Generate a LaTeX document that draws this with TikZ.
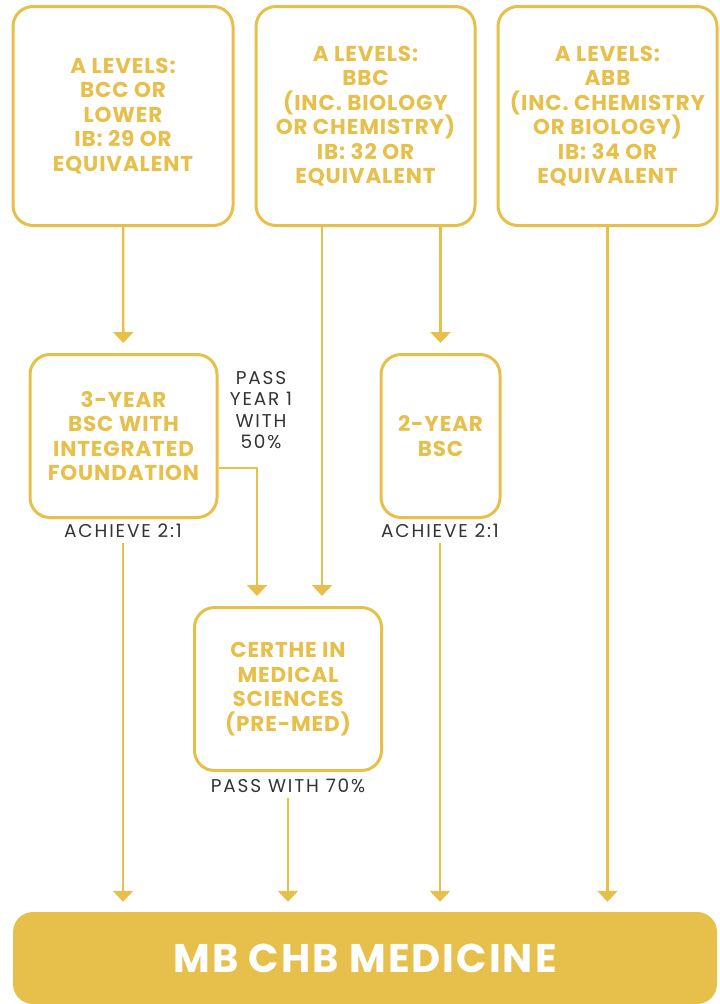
\documentclass[tikz,border=0pt]{standalone}
\usepackage{fontspec}
\setmainfont{Poppins}
\newfontfamily\boxfont{Poppins}[LetterSpace=4]
\newfontfamily\notefont{Poppins}[LetterSpace=10]
\newfontfamily\bigfont{Poppins}[LetterSpace=5]
\usepackage{xcolor}
\usetikzlibrary{arrows.meta}
\definecolor{gold}{HTML}{E6C04A}
\definecolor{ink}{HTML}{333333}

\tikzset{
  entry/.style={draw=gold, line width=3pt, rounded corners=20pt, align=center,
    text=gold, font=\boxfont\bfseries\fontsize{21.5}{24.5}\selectfont, inner sep=0pt},
  note/.style={text=ink, align=center, font=\notefont\fontsize{18.5}{21.5}\selectfont, inner sep=2pt},
  link/.style={draw=gold, line width=2.5pt, -{Triangle[width=20pt,length=11pt]}, shorten >=10pt}
}

\begin{document}
\begin{tikzpicture}[x=1pt,y=-1pt]
            \useasboundingbox (0,0) rectangle (720,1004);

            %Nodes
            \node[entry, minimum width=220pt, minimum height=219pt] at (123,116) (low) {A LEVELS:\\BCC OR\\LOWER\\IB: 29 OR\\EQUIVALENT};
            \node[entry, minimum width=219pt, minimum height=219pt] at (365.5,116) (mid) {A LEVELS:\\BBC\\(INC. BIOLOGY\\OR CHEMISTRY)\\IB: 32 OR\\EQUIVALENT};
            \node[entry, minimum width=219pt, minimum height=219pt] at (607.5,116) (high) {A LEVELS:\\ABB\\(INC. CHEMISTRY\\OR BIOLOGY)\\IB: 34 OR\\EQUIVALENT};

            \node[entry, minimum width=187pt, minimum height=163pt] at (123.5,436) (found) {3-YEAR\\BSC WITH\\INTEGRATED\\FOUNDATION};
            \node[entry, minimum width=119pt, minimum height=163pt] at (440.5,436) (bsc) {2-YEAR\\BSC};
            \node[entry, minimum width=187pt, minimum height=163pt] at (288,689) (certhe) {CERTHE IN\\MEDICAL\\SCIENCES\\(PRE-MED)};

            \node[fill=gold, rounded corners=20pt, minimum width=704pt, minimum height=92pt,
                  text=white, font=\bigfont\bfseries\fontsize{40}{44}\selectfont] at (365,958) (mbchb) {MB CHB MEDICINE};

            \node[note] at (261,410) (year1) {PASS\\YEAR 1\\WITH\\50\%};
            \node[note] at (123,531) (twoone) {ACHIEVE 2:1};
            \node[note] at (440,531) (twoonebsc) {ACHIEVE 2:1};
            \node[note] at (288,786) (seventy) {PASS WITH 70\%};

            %Lines
            \draw[link] (low.south |- 0,224) -- (found);
            \draw[link] (mid.south -| 322,0) -- (certhe.north -| 322,0);
            \draw[link] (mid.south -| bsc) -- (bsc);
            \draw[link] (high) -- (mbchb.north -| high);
            \draw[link] (found.east |- 0,468) -| ([xshift=-31pt]certhe.north);
            \draw[link, shorten <=3pt] (twoone) -- (mbchb.north -| twoone);
            \draw[link, shorten <=3pt] (twoonebsc) -- (mbchb.north -| twoonebsc);
            \draw[link, shorten <=3pt] (seventy) -- (mbchb.north -| seventy);
        \end{tikzpicture}
\end{document}
